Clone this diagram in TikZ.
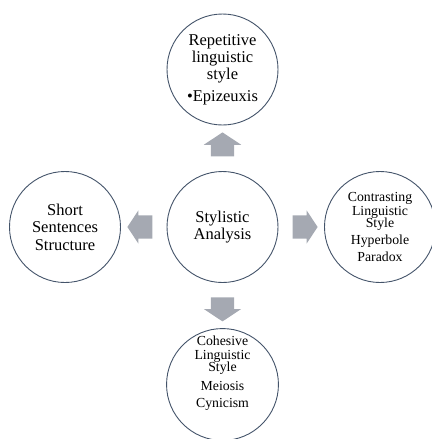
\documentclass[tikz,border=0pt]{standalone}
\usepackage{fontspec}
\setmainfont{Liberation Serif}
\usepackage{tikz}
\usetikzlibrary{shapes.arrows,positioning,calc}
\definecolor{ringblue}{RGB}{68,84,106}
\definecolor{arrowgray}{RGB}{165,169,178}

\begin{document}
\begin{tikzpicture}[x=1pt, y=-1pt,
        bubble/.style={circle, draw=ringblue, line width=0.9pt, fill=white, minimum size=111pt, inner sep=0pt, align=center, font=\fontsize{16.5}{17}\selectfont},
        smallbubble/.style={bubble, font=\fontsize{13.8}{16.5}\selectfont},
        flow/.style={single arrow, fill=arrowgray, draw=none, single arrow tip angle=113, minimum height=24pt},
        vflow/.style={flow, inner xsep=11.5pt, inner ysep=0pt, single arrow head extend=7pt},
        hflow/.style={flow, inner xsep=0pt, inner ysep=11.5pt, single arrow head extend=5pt, minimum height=25pt}]

        \useasboundingbox (0,0) rectangle (431,439);

        \node[bubble] (CORE) at (222.5,227) {Stylistic\\Analysis};
        \node[bubble] (TOP) at (222.5,69.5) {Repetitive\\linguistic\\style\\[5pt]•Epizeuxis};
        \node[bubble] (LEFT) at (65,227) {Short\\[0.5pt]Sentences\\[0.5pt]Structure};
        \node[smallbubble] (RIGHT) at (380,227) {Contrasting\\[-3.2pt]Linguistic\\[-3.8pt]Style\\[0.5pt]Hyperbole\\Paradox};
        \node[smallbubble] (BOTTOM) at (222.5,384.5) {Cohesive\\[-3pt]Linguistic\\[-4pt]Style\\[2pt]Meiosis\\[1pt]Cynicism\\[4pt]\strut};

        \node[vflow, shape border rotate=90] (UP) at ($(CORE.north)!0.5!(TOP.south)$) {};
        \node[vflow, shape border rotate=270] (DOWN) at ($(CORE.south)!0.5!(BOTTOM.north)$) {};
        \node[hflow, shape border rotate=180] (WEST) at ($(CORE.west)!0.5!(LEFT.east)$) {};
        \node[hflow] (EAST) at ($(CORE.east)!0.5!(RIGHT.west)$) {};

    \end{tikzpicture}
\end{document}
